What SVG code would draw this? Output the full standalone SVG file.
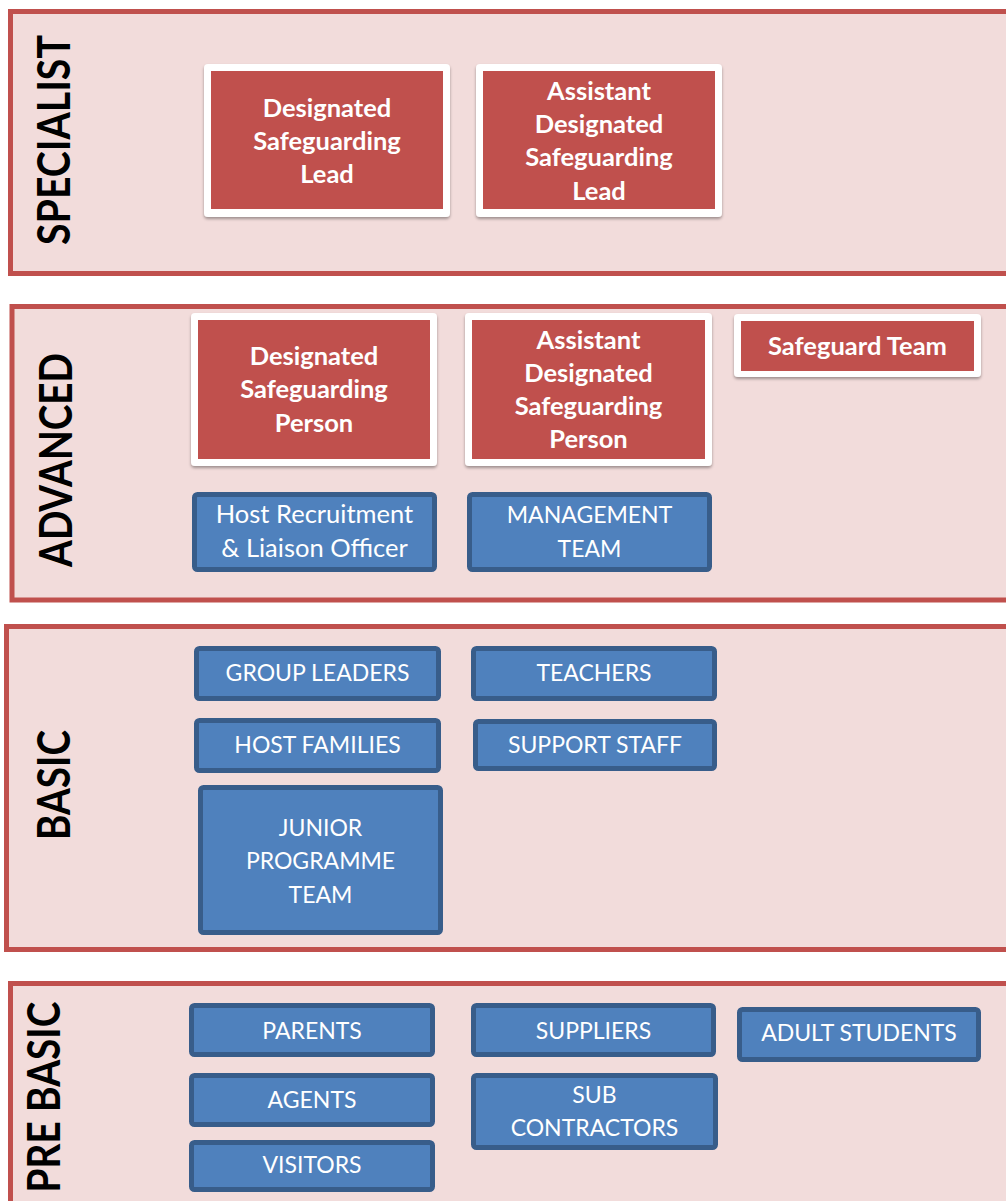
<svg xmlns="http://www.w3.org/2000/svg" width="1006" height="1201" viewBox="0 0 1006 1201">
<style>
.band{fill:#F2DCDB;stroke:#C0504D;stroke-width:5}
.lvl{font-family:Lato,"Liberation Sans",sans-serif;font-weight:bold;font-size:46px;fill:#000;text-anchor:middle}
.frame{fill:#fff}
.red{fill:#C0504D}
.rt{font-family:Lato,"Liberation Sans",sans-serif;font-weight:bold;font-size:25.5px;fill:#fff;text-anchor:middle}
.blue{fill:#4F81BD;stroke:#385D8A;stroke-width:5}
.bt{font-family:Lato,"Liberation Sans",sans-serif;font-size:23px;fill:#fff;text-anchor:middle}
.bm{font-size:25.5px}
</style>
<defs>
<filter id="sh" x="-10%" y="-10%" width="120%" height="130%">
<feDropShadow dx="0" dy="2" stdDeviation="1.5" flood-color="#000" flood-opacity="0.35"/>
</filter>
</defs>
<rect width="1006" height="1201" fill="#fff"/>
<g id="band-specialist">
<rect class="band" x="10.5" y="11.5" width="1010" height="262"/>
<text class="lvl" transform="translate(70,140) rotate(-90)" textLength="210" lengthAdjust="spacingAndGlyphs">SPECIALIST</text>
</g>
<g id="band-advanced">
<rect class="band" x="12" y="306.5" width="1010" height="293.5"/>
<text class="lvl" transform="translate(72,460) rotate(-90)" textLength="214" lengthAdjust="spacingAndGlyphs">ADVANCED</text>
</g>
<g id="band-basic">
<rect class="band" x="6.5" y="626.5" width="1010" height="323"/>
<text class="lvl" transform="translate(70,785) rotate(-90)" textLength="110" lengthAdjust="spacingAndGlyphs">BASIC</text>
</g>
<g id="band-prebasic">
<rect class="band" x="10.5" y="983.5" width="1010" height="300"/>
<text class="lvl" style="font-size:45px" transform="translate(60,1097) rotate(-90)" textLength="191" lengthAdjust="spacingAndGlyphs">PRE BASIC</text>
</g>
<g id="dsl">
<rect class="frame" filter="url(#sh)" x="204" y="64" width="246" height="153" rx="4"/>
<rect class="red" x="211" y="71" width="232" height="138"/>
<text class="rt"><tspan x="327" y="117">Designated</tspan><tspan x="327" y="150">Safeguarding</tspan><tspan x="327" y="183">Lead</tspan></text>
</g>
<g id="adsl">
<rect class="frame" filter="url(#sh)" x="476" y="64" width="246" height="153" rx="4"/>
<rect class="red" x="483" y="71" width="232" height="138"/>
<text class="rt"><tspan x="599" y="100">Assistant</tspan><tspan x="599" y="133">Designated</tspan><tspan x="599" y="166">Safeguarding</tspan><tspan x="599" y="200">Lead</tspan></text>
</g>
<g id="dsp">
<rect class="frame" filter="url(#sh)" x="191" y="313" width="246" height="153" rx="4"/>
<rect class="red" x="198" y="320" width="232" height="139"/>
<text class="rt"><tspan x="314" y="365">Designated</tspan><tspan x="314" y="398">Safeguarding</tspan><tspan x="314" y="432">Person</tspan></text>
</g>
<g id="adsp">
<rect class="frame" filter="url(#sh)" x="465" y="313" width="247" height="153" rx="4"/>
<rect class="red" x="472" y="320" width="233" height="139"/>
<text class="rt"><tspan x="588.5" y="349">Assistant</tspan><tspan x="588.5" y="382">Designated</tspan><tspan x="588.5" y="415">Safeguarding</tspan><tspan x="588.5" y="448">Person</tspan></text>
</g>
<g id="safeguard-team">
<rect class="frame" filter="url(#sh)" x="734" y="314" width="247" height="63" rx="4"/>
<rect class="red" x="741" y="321" width="233" height="50"/>
<text class="rt" x="857.5" y="355">Safeguard Team</text>
</g>
<g id="host-recruitment">
<rect class="blue" x="194.5" y="494.5" width="240" height="75" rx="3"/>
<text class="bt bm"><tspan x="314.5" y="523">Host Recruitment</tspan><tspan x="314.5" y="557">&amp; Liaison Officer</tspan></text>
</g>
<g id="management-team">
<rect class="blue" x="469.5" y="494.5" width="240" height="75" rx="3"/>
<text class="bt"><tspan x="589.5" y="523">MANAGEMENT</tspan><tspan x="589.5" y="557">TEAM</tspan></text>
</g>
<g id="group-leaders">
<rect class="blue" x="196.5" y="648.5" width="242" height="50" rx="3"/>
<text class="bt" x="317.5" y="681">GROUP LEADERS</text>
</g>
<g id="host-families">
<rect class="blue" x="196.5" y="720.5" width="242" height="50" rx="3"/>
<text class="bt" x="317.5" y="753">HOST FAMILIES</text>
</g>
<g id="junior-programme-team">
<rect class="blue" x="200.5" y="787.5" width="240" height="145" rx="3"/>
<text class="bt"><tspan x="320.5" y="836">JUNIOR</tspan><tspan x="320.5" y="869">PROGRAMME</tspan><tspan x="320.5" y="903">TEAM</tspan></text>
</g>
<g id="teachers">
<rect class="blue" x="473.5" y="648.5" width="241" height="50" rx="3"/>
<text class="bt" x="594" y="681">TEACHERS</text>
</g>
<g id="support-staff">
<rect class="blue" x="475.5" y="721.5" width="239" height="47" rx="3"/>
<text class="bt" x="595" y="753">SUPPORT STAFF</text>
</g>
<g id="parents">
<rect class="blue" x="191.5" y="1005.5" width="241" height="49" rx="3"/>
<text class="bt" x="312" y="1039">PARENTS</text>
</g>
<g id="agents">
<rect class="blue" x="191.5" y="1075.5" width="241" height="49" rx="3"/>
<text class="bt" x="312" y="1108">AGENTS</text>
</g>
<g id="visitors">
<rect class="blue" x="191.5" y="1142.5" width="241" height="47" rx="3"/>
<text class="bt" x="312" y="1173">VISITORS</text>
</g>
<g id="suppliers">
<rect class="blue" x="473.5" y="1005.5" width="240" height="49" rx="3"/>
<text class="bt" x="593.5" y="1039">SUPPLIERS</text>
</g>
<g id="sub-contractors">
<rect class="blue" x="473.5" y="1075.5" width="242" height="72" rx="3"/>
<text class="bt"><tspan x="594.5" y="1103">SUB</tspan><tspan x="594.5" y="1136">CONTRACTORS</tspan></text>
</g>
<g id="adult-students">
<rect class="blue" x="739.5" y="1009.5" width="239" height="50" rx="3"/>
<text class="bt" x="859" y="1041">ADULT STUDENTS</text>
</g>
<g id="connectors"/>
</svg>
